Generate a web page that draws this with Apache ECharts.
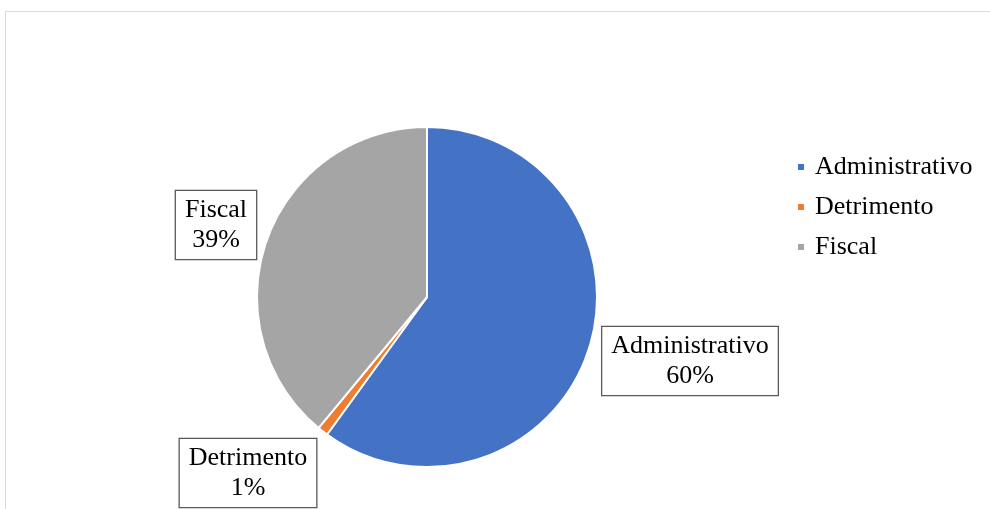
<!DOCTYPE html>
<html>
<head>
<meta charset="utf-8">
<script src="https://cdn.jsdelivr.net/npm/echarts@6/dist/echarts.min.js"></script>
<style>
  html, body { margin: 0; padding: 0; background: #fff; }
  #chart { width: 990px; height: 509px; }
</style>
</head>
<body>
<div id="chart"></div>
<script>
// Distribución por tipo de responsabilidad
const categories = ['Administrativo', 'Detrimento', 'Fiscal'];
const values = [60, 1, 39];
const colors = ['#4472C4', '#ED7D31', '#A5A5A5'];

// Callout box centres for each slice label
const labelCentres = [[690, 361], [248, 473], [216, 225]];

const total = values.reduce((a, b) => a + b, 0);
const chart = echarts.init(document.getElementById('chart'));
const serif = '"Liberation Serif", "Times New Roman", serif';

chart.setOption({
  animation: false,
  textStyle: { fontFamily: serif },
  graphic: [{
    type: 'rect',
    shape: { x: 5.5, y: 11.5, width: 1000, height: 600 },
    style: { fill: 'none', stroke: '#d9d9d9', lineWidth: 1 },
    silent: true
  }],
  legend: {
    orient: 'vertical',
    left: 791,
    top: 149,
    itemGap: 14,
    itemWidth: 8,
    itemHeight: 8,
    icon: 'rect',
    data: categories,
    textStyle: {
      fontFamily: serif,
      fontSize: 26,
      color: '#000',
      padding: [0, 0, 0, 5]
    }
  },
  series: [{
    type: 'pie',
    center: [427, 297],
    radius: [0, 170],
    startAngle: 90,
    clockwise: true,
    itemStyle: { borderColor: '#fff', borderWidth: 2 },
    labelLine: { show: false },
    label: {
      show: true,
      position: 'outside',
      formatter: p => p.name + '\n' + Math.round(p.value / total * 100) + '%',
      fontFamily: serif,
      fontSize: 26,
      lineHeight: 30,
      color: '#000',
      align: 'center',
      backgroundColor: '#fff',
      borderColor: '#595959',
      borderWidth: 1.3,
      padding: [4, 9, 4, 9]
    },
    labelLayout: p => ({
      x: labelCentres[p.dataIndex][0],
      y: labelCentres[p.dataIndex][1],
      align: 'center',
      verticalAlign: 'middle'
    }),
    data: categories.map((c, i) => ({
      name: c,
      value: values[i],
      itemStyle: { color: colors[i] }
    }))
  }]
});
</script>
</body>
</html>
